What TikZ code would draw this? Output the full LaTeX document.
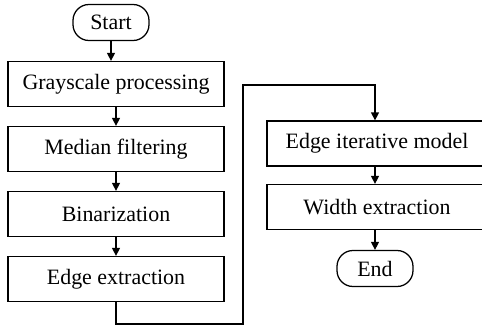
\documentclass[tikz,border=0pt]{standalone}
\usepackage{fontspec}
\setmainfont{Liberation Serif}
\usetikzlibrary{arrows.meta}

\begin{document}
\begin{tikzpicture}[
  box/.style={draw, line width=0.9pt, minimum width=5.4cm, minimum height=1.125cm, inner sep=0pt, font=\fontsize{15.6}{18}\selectfont},
  term/.style={draw, line width=0.9pt, rounded corners=0.4cm, minimum width=1.9cm, minimum height=0.9cm, inner sep=0pt, font=\fontsize{15.6}{18}\selectfont},
  arrow/.style={-{Triangle[length=0.2cm,width=0.2cm]}, line width=0.9pt}
]
  \useasboundingbox (0,0) rectangle (12.05,-8.2);

  % left column
  \node[term] (start) at (2.775,-0.5625) {Start};
  \node[box] (gray) at (2.9,-2.1) {Grayscale processing};
  \node[box] (median) at (2.9,-3.725) {Median filtering};
  \node[box] (binar) at (2.9,-5.35) {Binarization};
  \node[box] (edge) at (2.9,-6.975) {Edge extraction};

  % right column (cut by the page edge)
  \node[box, minimum width=5.5cm] (iter) at (9.425,-3.5875) {Edge iterative model};
  \node[box, minimum width=5.5cm] (width) at (9.425,-5.175) {Width extraction};
  \node[term] (end) at (9.375,-6.7125) {End};

  \coordinate (low) at (6.075,-8.1);
  \coordinate (high) at (6.075,-2.125);

  \draw[arrow] (start.south) -- (start.south |- gray.north);
  \draw[arrow] (gray) -- (median);
  \draw[arrow] (median) -- (binar);
  \draw[arrow] (binar) -- (edge);
  \draw[arrow] (edge.south) |- (low) -- (high) -| (end |- iter.north);
  \draw[arrow] (end |- iter.south) -- (end |- width.north);
  \draw[arrow] (end |- width.south) -- (end);
\end{tikzpicture}
\end{document}
